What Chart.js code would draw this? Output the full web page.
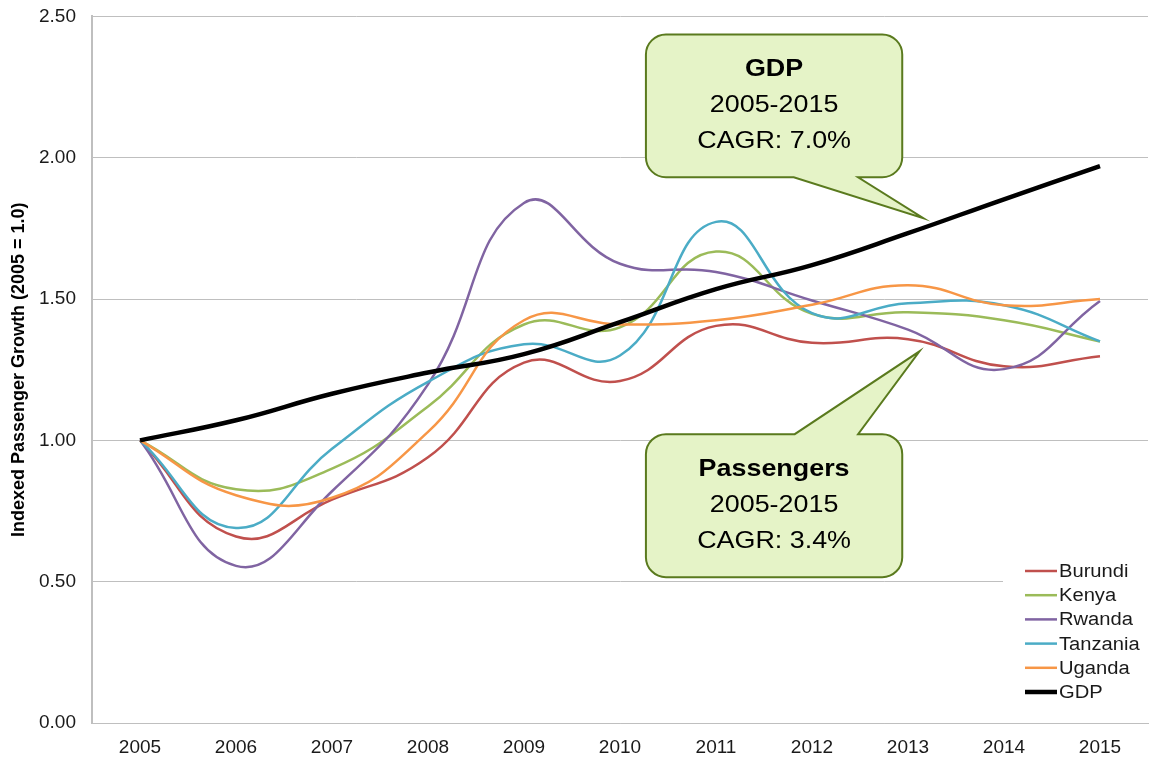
<!DOCTYPE html>
<html lang="en">
<head>
    <meta charset="UTF-8">
    <title>Indexed Passenger Growth</title>
    <script src="https://cdn.jsdelivr.net/npm/chart.js"></script>
    <style>
        html, body { margin: 0; padding: 0; background: #fff; overflow: hidden; }
        body { width: 1149px; height: 760px; position: relative; }
        /* the top tick label forces extra head room, so the canvas starts a bit above the page */
        #wrap { width: 1149px; height: 771px; position: absolute; left: 0; top: -11px; }
    </style>
</head>
<body>
    <div id="wrap"><canvas id="growthChart"></canvas></div>

    <script>
        // categories and series
        const years = ['2005', '2006', '2007', '2008', '2009', '2010', '2011', '2012', '2013', '2014', '2015'];
        const burundi  = [1.00, 0.66, 0.79, 0.94, 1.275, 1.21, 1.405, 1.345, 1.358, 1.262, 1.298];
        const kenya    = [1.00, 0.827, 0.90, 1.12, 1.41, 1.40, 1.668, 1.448, 1.453, 1.425, 1.35];
        const rwanda   = [1.00, 0.556, 0.82, 1.198, 1.84, 1.625, 1.596, 1.495, 1.392, 1.252, 1.493];
        const tanzania = [1.00, 0.69, 0.97, 1.207, 1.34, 1.30, 1.773, 1.45, 1.485, 1.478, 1.35];
        const uganda   = [1.00, 0.806, 0.797, 1.03, 1.425, 1.41, 1.425, 1.48, 1.549, 1.478, 1.50];
        const gdp      = [1.00, 1.071, 1.165, 1.24, 1.305, 1.418, 1.535, 1.62, 1.733, 1.853, 1.97];
        const yTicks = [0, 0.5, 1.0, 1.5, 2.0, 2.5];

        const TEXT = '#1a1a1a';
        const GRID = '#bfbfbf';
        const stretch = 1.12; // the reference text is a bit wider than plain Arial

        function series(label, data, color, width, order) {
            return {
                label: label,
                data: data,
                borderColor: color,
                backgroundColor: color,
                borderWidth: width,
                pointRadius: 0,
                tension: 0.45,
                fill: false,
                order: order
            };
        }

        // draw stretched text centred (or left aligned) at x,y
        function wideText(ctx, str, x, y, font, align) {
            ctx.save();
            ctx.font = font;
            ctx.textBaseline = 'middle';
            ctx.textAlign = align || 'center';
            ctx.translate(x, y);
            ctx.scale(stretch, 1);
            ctx.fillText(str, 0, 0);
            ctx.restore();
        }

        // speech-bubble annotations, positioned in data units
        const callouts = [
            { lines: ['GDP', '2005-2015', 'CAGR: 7.0%'], x0: 5.27, x1: 7.94, y0: 2.436, y1: 1.931,
              side: 'bottom', b0: 6.81, b1: 7.48, tipX: 8.16, tipY: 1.786 },
            { lines: ['Passengers', '2005-2015', 'CAGR: 3.4%'], x0: 5.27, x1: 7.94, y0: 1.022, y1: 0.516,
              side: 'top', b0: 6.82, b1: 7.48, tipX: 8.12, tipY: 1.315 }
        ];

        const calloutPlugin = {
            id: 'callouts',
            afterDatasetsDraw(chart) {
                const ctx = chart.ctx;
                const xs = chart.scales.x, ys = chart.scales.y;
                callouts.forEach(c => {
                    const l = xs.getPixelForValue(c.x0), r = xs.getPixelForValue(c.x1);
                    const t = ys.getPixelForValue(c.y0), b = ys.getPixelForValue(c.y1);
                    const b0 = xs.getPixelForValue(c.b0), b1 = xs.getPixelForValue(c.b1);
                    const tx = xs.getPixelForValue(c.tipX), ty = ys.getPixelForValue(c.tipY);
                    const rad = 20;
                    ctx.save();
                    ctx.beginPath();
                    ctx.moveTo(l + rad, t);
                    if (c.side === 'top') {
                        ctx.lineTo(b0, t);
                        ctx.lineTo(tx, ty);
                        ctx.lineTo(b1, t);
                    }
                    ctx.lineTo(r - rad, t);
                    ctx.arcTo(r, t, r, t + rad, rad);
                    ctx.lineTo(r, b - rad);
                    ctx.arcTo(r, b, r - rad, b, rad);
                    if (c.side === 'bottom') {
                        ctx.lineTo(b1, b);
                        ctx.lineTo(tx, ty);
                        ctx.lineTo(b0, b);
                    }
                    ctx.lineTo(l + rad, b);
                    ctx.arcTo(l, b, l, b - rad, rad);
                    ctx.lineTo(l, t + rad);
                    ctx.arcTo(l, t, l + rad, t, rad);
                    ctx.closePath();
                    ctx.fillStyle = '#e5f3c7';
                    ctx.fill();
                    ctx.lineWidth = 2;
                    ctx.strokeStyle = '#5a7a1e';
                    ctx.stroke();

                    ctx.fillStyle = '#000';
                    const cx = (l + r) / 2;
                    const cy = (t + b) / 2;
                    wideText(ctx, c.lines[0], cx, cy - 36, 'bold 24px "Liberation Sans", Arial, sans-serif');
                    wideText(ctx, c.lines[1], cx, cy, '24px "Liberation Sans", Arial, sans-serif');
                    wideText(ctx, c.lines[2], cx, cy + 36, '24px "Liberation Sans", Arial, sans-serif');
                    ctx.restore();
                });
            }
        };

        // legend box in the lower right corner of the plot
        const legendPlugin = {
            id: 'cornerLegend',
            afterDatasetsDraw(chart) {
                const ctx = chart.ctx;
                const area = chart.chartArea;
                const left = area.right - 145, top = area.bottom - 165;
                ctx.save();
                ctx.fillStyle = '#fff';
                ctx.fillRect(left, top, 145, 148);
                chart.data.datasets.forEach((ds, i) => {
                    const y = top + 13 + i * 24.2;
                    ctx.beginPath();
                    ctx.moveTo(left + 22, y);
                    ctx.lineTo(left + 54, y);
                    ctx.lineWidth = ds.borderWidth;
                    ctx.strokeStyle = ds.borderColor;
                    ctx.stroke();
                    ctx.fillStyle = TEXT;
                    wideText(ctx, ds.label, left + 56, y + 1, '18px "Liberation Sans", Arial, sans-serif', 'left');
                });
                ctx.restore();
            }
        };

        // narrow-ish rotated axis title
        const titlePlugin = {
            id: 'yTitle',
            afterDraw(chart) {
                const ctx = chart.ctx;
                const area = chart.chartArea;
                ctx.save();
                ctx.translate(19, (area.top + area.bottom) / 2);
                ctx.rotate(-Math.PI / 2);
                ctx.fillStyle = '#000';
                ctx.font = 'bold 18px "Liberation Sans Narrow", "Arial Narrow", sans-serif';
                ctx.textAlign = 'center';
                ctx.textBaseline = 'middle';
                ctx.fillText('Indexed Passenger Growth (2005 = 1.0)', 0, 0);
                ctx.restore();
            }
        };

        const config = {
            type: 'line',
            data: {
                labels: years,
                datasets: [
                    series('Burundi', burundi, '#c0504d', 2.5, 6),
                    series('Kenya', kenya, '#9bbb59', 2.5, 5),
                    series('Rwanda', rwanda, '#8064a2', 2.5, 4),
                    series('Tanzania', tanzania, '#4bacc6', 2.5, 3),
                    series('Uganda', uganda, '#f79646', 2.5, 2),
                    series('GDP', gdp, '#000000', 4.5, 1)
                ]
            },
            options: {
                responsive: true,
                maintainAspectRatio: false,
                animation: false,
                layout: { padding: { top: 6, right: 1, left: 0, bottom: 0 } },
                plugins: {
                    legend: { display: false },
                    tooltip: { enabled: false }
                },
                scales: {
                    x: {
                        offset: true,
                        grid: { display: false },
                        border: { display: true, color: GRID, width: 1 },
                        ticks: {
                            color: TEXT,
                            font: { family: '"Liberation Sans", Arial, sans-serif', size: 19 },
                            padding: 5,
                            maxRotation: 0
                        },
                        afterFit(scale) { scale.height = 37; }
                    },
                    y: {
                        min: 0,
                        max: 2.5,
                        afterBuildTicks(scale) { scale.ticks = yTicks.map(v => ({ value: v })); },
                        grid: { color: GRID, lineWidth: 1, drawTicks: false },
                        border: { display: true, color: GRID, width: 2 },
                        ticks: {
                            color: TEXT,
                            font: { family: '"Liberation Sans", Arial, sans-serif', size: 19 },
                            padding: 16,
                            callback: v => Number(v).toFixed(2)
                        },
                        afterFit(scale) { scale.width = 92; }
                    }
                }
            },
            plugins: [calloutPlugin, legendPlugin, titlePlugin]
        };

        new Chart(document.getElementById('growthChart').getContext('2d'), config);
    </script>
</body>
</html>
